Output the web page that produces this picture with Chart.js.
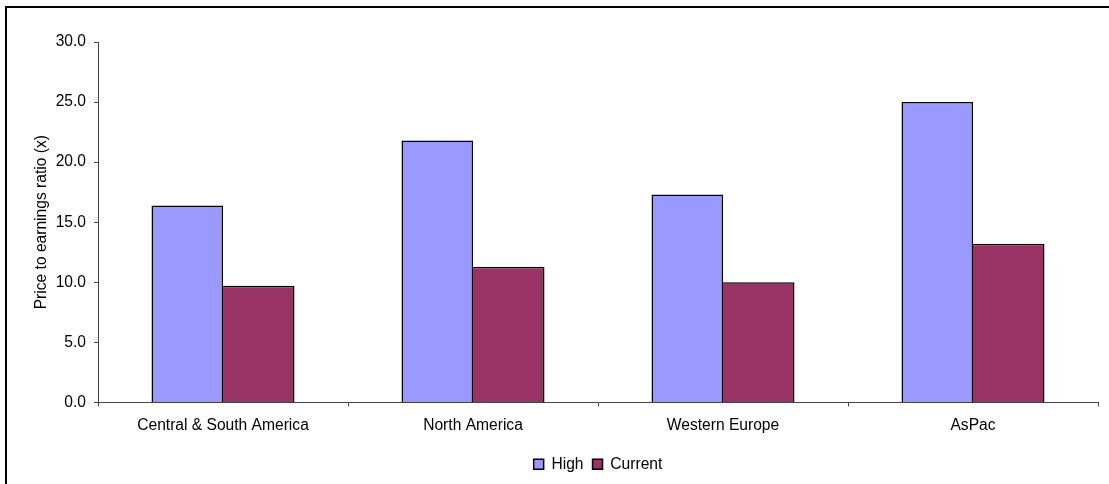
<!DOCTYPE html>
<html>
<head>
<meta charset="utf-8">
<script src="https://cdn.jsdelivr.net/npm/chart.js@4/dist/chart.umd.min.js"></script>
<style>
  html, body { margin: 0; padding: 0; background: #fff; }
  #wrap { width: 1109px; height: 484px; position: relative; }
</style>
</head>
<body>
<div id="wrap"><canvas id="chart" width="1109" height="484"></canvas></div>
<script>
// Regions compared
const regions = ['Central & South America', 'North America', 'Western Europe', 'AsPac'];
// Price to earnings ratios
const highValues = [16.4, 21.8, 17.3, 25.0];
const currentValues = [9.7, 11.3, 10.0, 13.2];
// Y axis range and step
const yMin = 0;
const yMax = 30;
const yStep = 5;

const FONT = { family: '"Liberation Sans", Arial, sans-serif', size: 15.6 };

// Frame around the whole chart
const framePlugin = {
  id: 'frame',
  afterDraw(chart) {
    const ctx = chart.ctx;
    ctx.save();
    ctx.strokeStyle = '#000';
    ctx.lineWidth = 2;
    ctx.strokeRect(6, 7, chart.width + 20, chart.height + 20);
    ctx.restore();
  }
};

new Chart(document.getElementById('chart'), {
  type: 'bar',
  data: {
    labels: regions,
    datasets: [
      {
        label: 'High',
        data: highValues,
        backgroundColor: '#9999FF',
        borderColor: '#000',
        borderWidth: { top: 1.5, left: 1.5, right: 1.5, bottom: 0 },
        borderSkipped: false
      },
      {
        label: 'Current',
        data: currentValues,
        backgroundColor: '#993366',
        borderColor: '#000',
        borderWidth: { top: 1.5, left: 0, right: 1.5, bottom: 0 },
        borderSkipped: false
      }
    ]
  },
  options: {
    responsive: false,
    animation: false,
    events: [],
    layout: { padding: { top: 42, right: 11, left: 0, bottom: 2 } },
    datasets: { bar: { categoryPercentage: 0.572, barPercentage: 1 } },
    scales: {
      x: {
        grid: { display: true, drawOnChartArea: false, drawTicks: true, tickLength: 4, color: '#444', offset: true },
        border: { display: true, color: '#444', width: 1 },
        ticks: { font: FONT, color: '#000', padding: 10, maxRotation: 0 },
        afterFit(scale) { scale.height = 45; }
      },
      y: {
        min: yMin,
        max: yMax,
        grid: { display: true, drawOnChartArea: false, drawTicks: true, tickLength: 4, color: '#444' },
        border: { display: true, color: '#444', width: 1 },
        ticks: {
          stepSize: yStep,
          font: FONT,
          color: '#000',
          padding: 8,
          callback: v => Number(v).toFixed(1)
        },
        title: {
          display: true,
          text: 'Price to earnings ratio (x)',
          font: FONT,
          color: '#000',
          padding: { top: 32, bottom: 0 }
        },
        afterFit(scale) { scale.width = 98; }
      }
    },
    plugins: {
      legend: {
        position: 'bottom',
        fullSize: false,
        labels: {
          font: FONT,
          color: '#000',
          boxWidth: 10,
          boxHeight: 10,
          padding: 9,
          generateLabels(chart) {
            return chart.data.datasets.map((ds, i) => ({
              text: ds.label,
              fillStyle: ds.backgroundColor,
              strokeStyle: '#000',
              lineWidth: 1.5,
              hidden: false,
              datasetIndex: i
            }));
          }
        }
      },
      tooltip: { enabled: false }
    }
  },
  plugins: [framePlugin]
});
</script>
</body>
</html>
